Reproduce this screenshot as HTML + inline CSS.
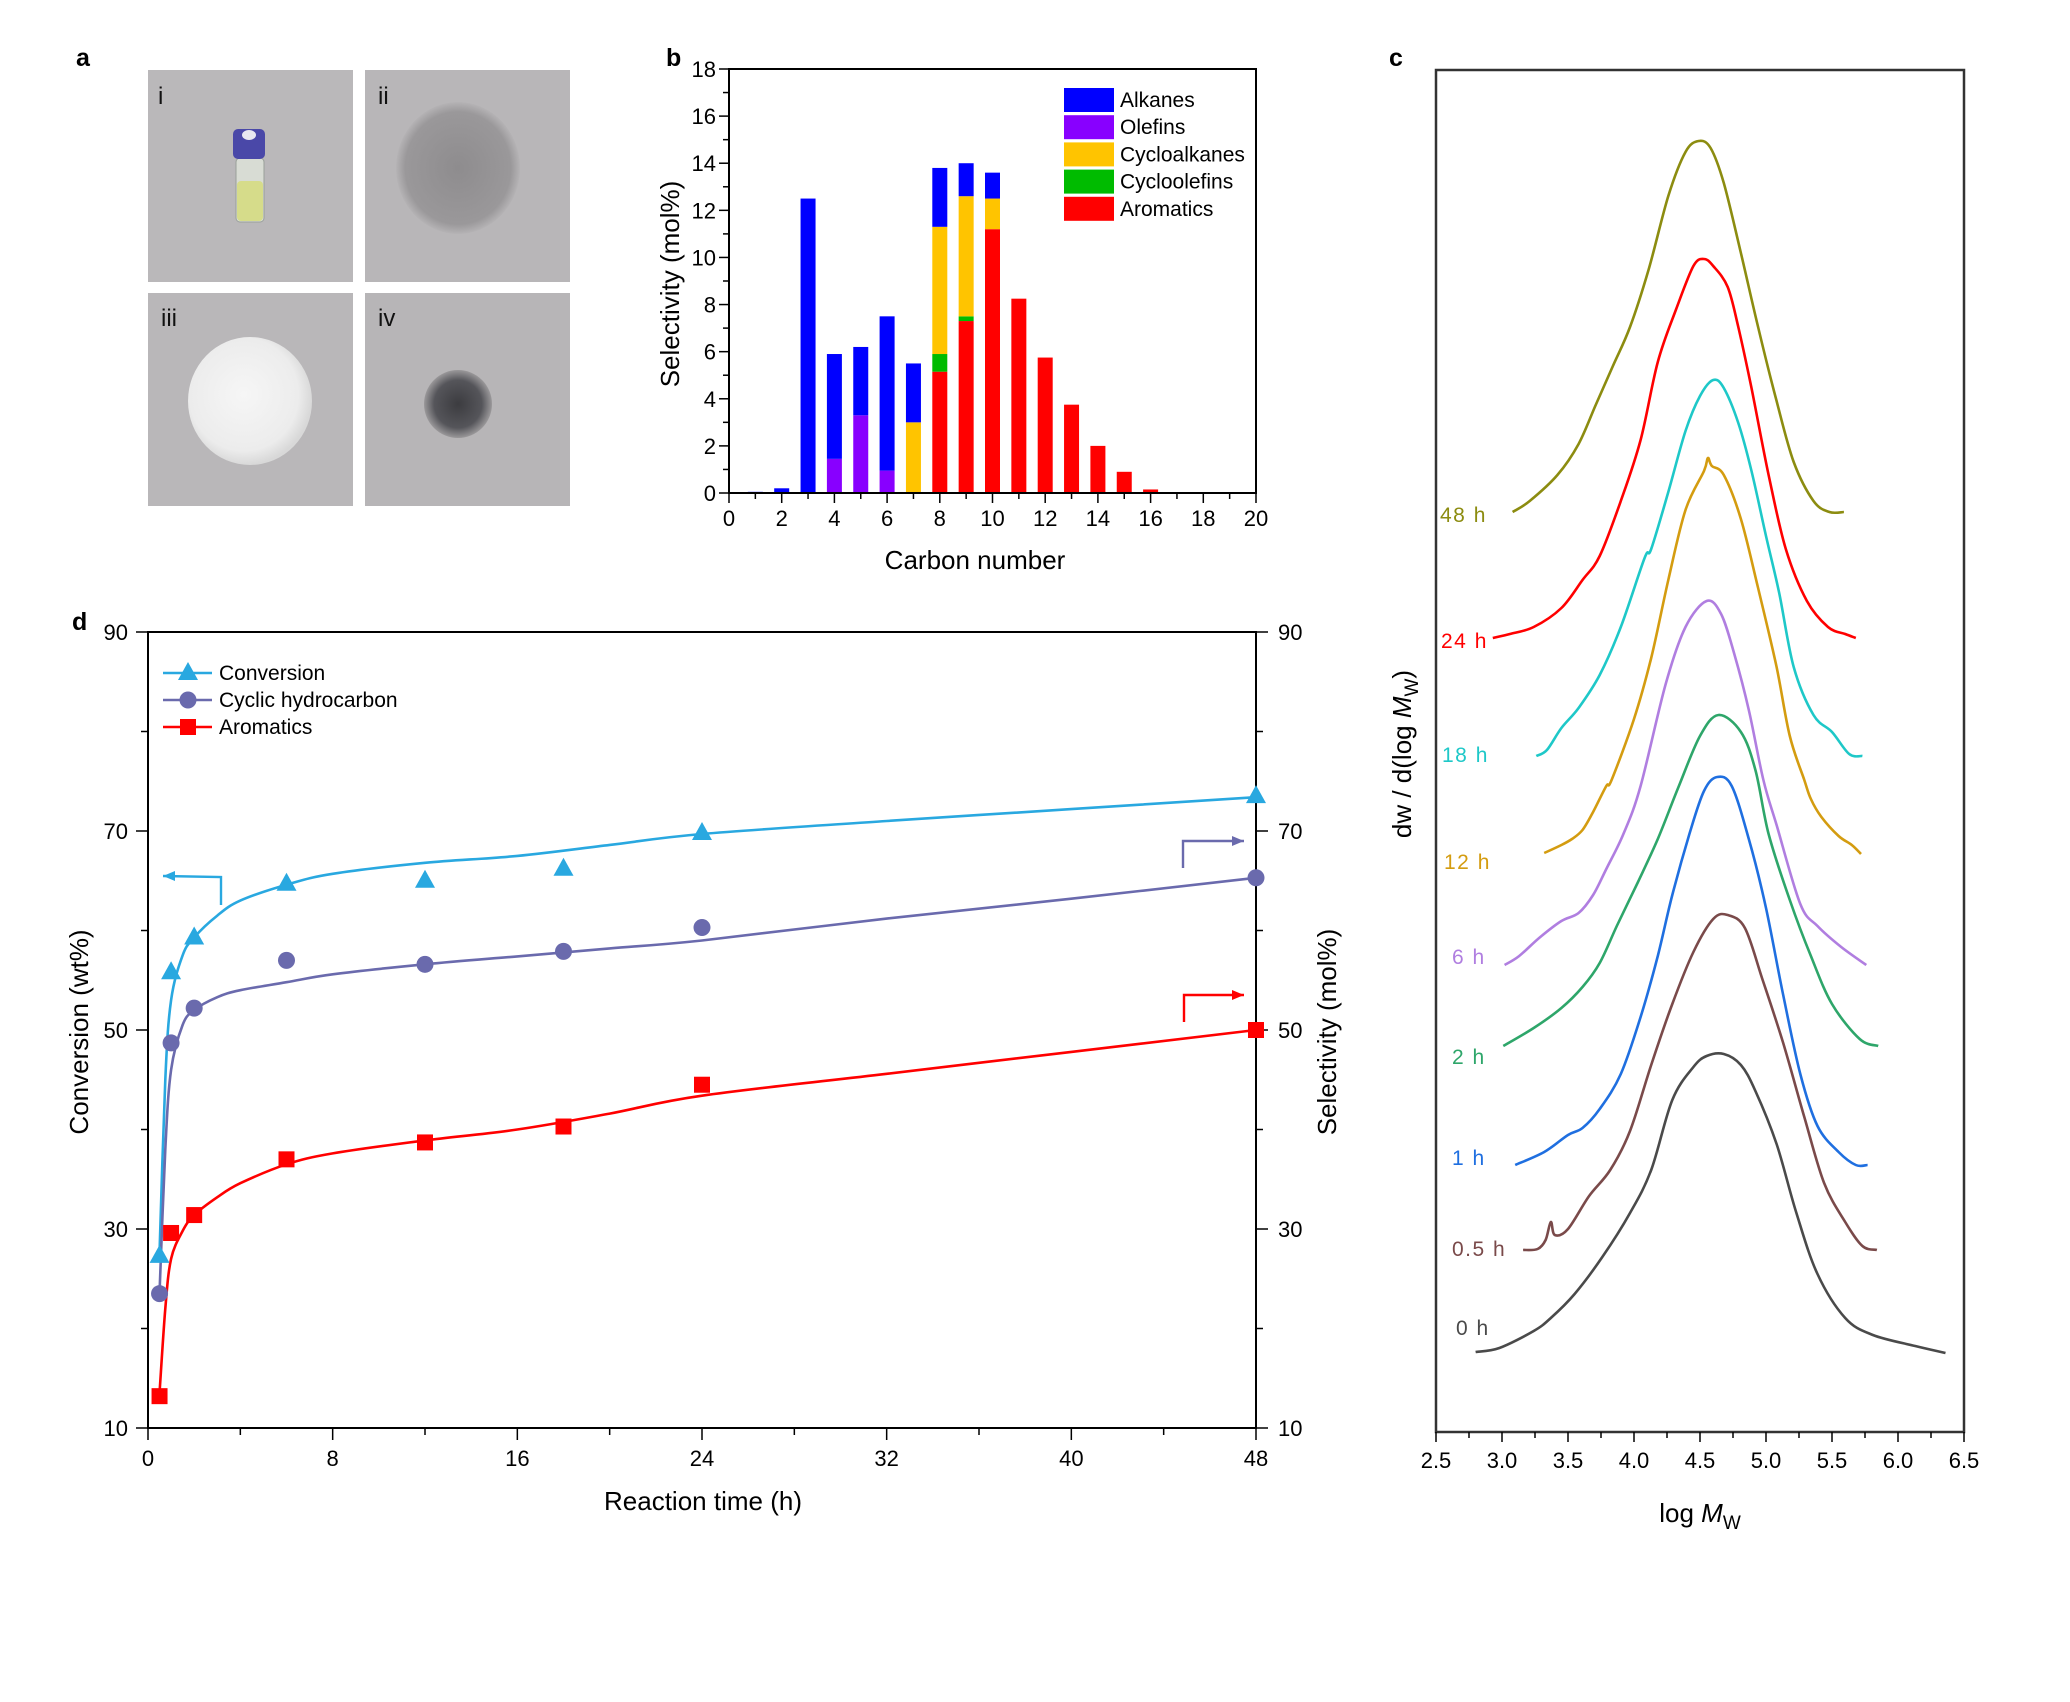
<!DOCTYPE html>
<html><head><meta charset="utf-8"><style>
html,body{margin:0;padding:0;background:#fff;}
svg{display:block;font-family:"Liberation Sans",Arial,sans-serif;}
</style></head><body>
<svg id="fig" width="2070" height="1702" viewBox="0 0 2070 1702" xmlns="http://www.w3.org/2000/svg">
<defs>
<radialGradient id="g2" cx="50%" cy="50%" r="50%"><stop offset="0" stop-color="#8e8c8e"/><stop offset="0.85" stop-color="#9a989a"/><stop offset="1" stop-color="#b5b3b5"/></radialGradient>
<radialGradient id="g3" cx="45%" cy="45%" r="55%"><stop offset="0" stop-color="#f6f6f6"/><stop offset="0.8" stop-color="#ececec"/><stop offset="1" stop-color="#d8d8d8"/></radialGradient>
<radialGradient id="g4" cx="50%" cy="50%" r="50%"><stop offset="0" stop-color="#3c3c40"/><stop offset="0.7" stop-color="#55555a"/><stop offset="1" stop-color="#9a989a"/></radialGradient>
</defs>
<g id="pa">
<text x="76" y="66" font-size="25" font-weight="bold">a</text>
<rect x="148" y="70" width="205" height="212" fill="#bab8ba"/>
<rect x="365" y="70" width="205" height="212" fill="#b8b6b8"/>
<rect x="148" y="293" width="205" height="213" fill="#b9b7b9"/>
<rect x="365" y="293" width="205" height="213" fill="#b7b5b7"/>
<rect x="236" y="158" width="28" height="64" rx="4" fill="#d8dcd4" stroke="#9aa09a"/>
<rect x="237" y="181" width="26" height="40" rx="4" fill="#d6dc8a"/>
<rect x="233" y="129" width="32" height="30" rx="5" fill="#4a48a8"/>
<ellipse cx="249" cy="135" rx="7" ry="5" fill="#e8e8f0"/>
<ellipse cx="458" cy="168" rx="62" ry="66" fill="url(#g2)"/>
<ellipse cx="250" cy="401" rx="62" ry="64" fill="url(#g3)"/>
<ellipse cx="458" cy="404" rx="34" ry="34" fill="url(#g4)"/>
<text x="158" y="104" font-size="24" fill="#111">i</text>
<text x="378" y="104" font-size="24" fill="#111">ii</text>
<text x="161" y="326" font-size="24" fill="#111">iii</text>
<text x="378" y="326" font-size="24" fill="#111">iv</text>
</g>
<g id="pb"></g>
<g id="pc"></g>
<g id="pd"></g>
</svg>
<script>
// ---------- Panel b data ----------
const carbonNumbers = [1,2,3,4,5,6,7,8,9,10,11,12,13,14,15,16,17,18];
const alkanes      = [0.05,0.2,12.5,4.45,2.9,6.55,2.5,2.5,1.4,1.1,0,0,0,0,0,0,0,0];
const olefins      = [0,0,0,1.45,3.3,0.95,0,0,0,0,0,0,0,0,0,0,0,0];
const cycloalkanes = [0,0,0,0,0,0,3.0,5.4,5.1,1.3,0,0,0,0,0,0,0,0];
const cycloolefins = [0,0,0,0,0,0,0,0.75,0.2,0,0,0,0,0,0,0,0,0];
const aromatics    = [0,0,0,0,0,0,0,5.15,7.3,11.2,8.25,5.75,3.75,2.0,0.9,0.15,0.02,0.02];
const bXTicks = [0,2,4,6,8,10,12,14,16,18,20];
const bYTicks = [0,2,4,6,8,10,12,14,16,18];
const bLegend = ["Alkanes","Olefins","Cycloalkanes","Cycloolefins","Aromatics"];

// ---------- Panel c data ----------
const gpcLabels = ["0 h","0.5 h","1 h","2 h","6 h","12 h","18 h","24 h","48 h"];
const c0_x = [2.80,2.98,3.24,3.37,3.55,3.76,3.97,4.13,4.29,4.45,4.55,4.68,4.81,4.92,5.08,5.23,5.39,5.60,5.81,6.13,6.36];
const c0_y = [0.80,0.84,1.01,1.14,1.38,1.75,2.19,2.62,3.32,3.65,3.76,3.78,3.67,3.41,2.88,2.19,1.58,1.14,0.97,0.86,0.79];
const c05_x = [3.16,3.27,3.33,3.37,3.40,3.50,3.66,3.82,3.97,4.13,4.29,4.45,4.60,4.71,4.84,4.97,5.13,5.29,5.44,5.60,5.73,5.84];
const c05_y = [1.82,1.83,1.92,2.10,1.97,2.03,2.36,2.62,3.01,3.67,4.28,4.80,5.13,5.17,5.04,4.54,3.89,3.15,2.49,2.10,1.86,1.82];
const c1_x = [3.10,3.32,3.50,3.61,3.74,3.90,4.05,4.18,4.29,4.42,4.53,4.63,4.74,4.87,5.00,5.13,5.26,5.39,5.55,5.68,5.77];
const c1_y = [2.67,2.80,2.97,3.04,3.23,3.58,4.15,4.76,5.37,5.98,6.41,6.55,6.46,5.93,5.24,4.37,3.58,3.06,2.80,2.67,2.67];
const c2_x = [3.01,3.24,3.45,3.61,3.74,3.87,4.03,4.18,4.34,4.50,4.64,4.81,4.92,5.02,5.18,5.34,5.50,5.71,5.85];
const c2_y = [3.86,4.04,4.24,4.45,4.69,5.06,5.50,5.93,6.46,6.96,7.17,7.00,6.62,5.98,5.32,4.76,4.28,3.93,3.86];
const c6_x = [3.02,3.13,3.29,3.45,3.58,3.69,3.79,3.92,4.05,4.24,4.39,4.55,4.66,4.76,4.87,4.98,5.08,5.26,5.39,5.57,5.76];
const c6_y = [4.67,4.76,4.95,5.11,5.19,5.37,5.63,5.98,6.46,7.48,8.05,8.31,8.18,7.78,7.22,6.52,6.07,5.28,5.06,4.85,4.67];
const c12_x = [3.32,3.45,3.53,3.61,3.69,3.79,3.83,4.00,4.13,4.26,4.39,4.53,4.56,4.59,4.68,4.81,4.94,5.08,5.18,5.29,5.34,5.42,5.55,5.65,5.72];
const c12_y = [5.79,5.87,5.93,6.02,6.20,6.46,6.52,7.13,7.74,8.52,9.22,9.61,9.74,9.66,9.57,9.13,8.44,7.65,6.96,6.52,6.33,6.15,5.96,5.87,5.78];
const c18_x = [3.26,3.34,3.45,3.58,3.74,3.90,4.08,4.13,4.26,4.39,4.50,4.60,4.68,4.79,4.89,5.00,5.10,5.21,5.36,5.50,5.63,5.73];
const c18_y = [6.76,6.82,7.04,7.24,7.57,8.05,8.74,8.83,9.40,10.01,10.36,10.52,10.44,10.09,9.61,8.96,8.39,7.65,7.17,7.00,6.78,6.76];
const c24_x = [2.93,3.06,3.24,3.45,3.61,3.74,3.90,4.05,4.18,4.32,4.45,4.53,4.60,4.71,4.79,4.89,5.02,5.15,5.31,5.47,5.60,5.68];
const c24_y = [7.94,7.98,8.05,8.24,8.52,8.76,9.31,9.92,10.70,11.23,11.66,11.73,11.66,11.45,11.05,10.44,9.57,8.83,8.31,8.05,7.98,7.94];
const c48_x = [3.08,3.21,3.42,3.58,3.71,3.84,3.97,4.11,4.26,4.39,4.49,4.58,4.68,4.81,4.94,5.08,5.21,5.36,5.48,5.59];
const c48_y = [9.20,9.31,9.57,9.88,10.27,10.66,11.05,11.62,12.36,12.80,12.91,12.84,12.49,11.79,11.05,10.31,9.70,9.31,9.20,9.20];
const cXTicks = [2.5,3.0,3.5,4.0,4.5,5.0,5.5,6.0,6.5];

// ---------- Panel d data ----------
const times = [0.5,1,2,6,12,18,24,48];
const conversion = [27.3,55.8,59.3,64.7,65.0,66.2,69.8,73.5];
const cyclic = [23.5,48.7,52.2,57.0,56.6,57.9,60.3,65.3];
const aromaticsSel = [13.2,29.6,31.4,37.0,38.7,40.3,44.5,50.0];
const fitTimes = [0.5,0.75,1,1.5,2,3,4,6,8,12,16,20,24,32,40,48];
const conversionFit = [27.5,45,53,57.5,59.3,61.5,63,64.6,65.7,66.8,67.5,68.6,69.7,71.0,72.2,73.4];
const cyclicFit = [23.5,38,46,50.5,52,53.3,54.0,54.8,55.6,56.6,57.4,58.2,59.0,61.2,63.2,65.3];
const aromaticsFit = [13.5,22,27,29.8,31.4,33.2,34.6,36.5,37.6,38.9,40.0,41.6,43.4,45.6,47.8,50.0];
const dXTicks = [0,8,16,24,32,40,48];
const dYTicks = [10,30,50,70,90];

const NS = "http://www.w3.org/2000/svg";
function mk(parent, tag, attrs, text){
  const e = document.createElementNS(NS, tag);
  for (const k in attrs) e.setAttribute(k, attrs[k]);
  if (text !== undefined) e.textContent = text;
  parent.appendChild(e);
  return e;
}
function smoothPath(pts){
  if (pts.length < 2) return "";
  let d = "M" + pts[0][0].toFixed(1) + "," + pts[0][1].toFixed(1);
  for (let i = 0; i < pts.length - 1; i++){
    const p0 = pts[Math.max(0,i-1)], p1 = pts[i], p2 = pts[i+1], p3 = pts[Math.min(pts.length-1,i+2)];
    const c1x = p1[0] + (p2[0]-p0[0])/6, c1y = p1[1] + (p2[1]-p0[1])/6;
    const c2x = p2[0] - (p3[0]-p1[0])/6, c2y = p2[1] - (p3[1]-p1[1])/6;
    d += " C" + c1x.toFixed(1)+","+c1y.toFixed(1)+" "+c2x.toFixed(1)+","+c2y.toFixed(1)+" "+p2[0].toFixed(1)+","+p2[1].toFixed(1);
  }
  return d;
}

// ================= Panel b =================
(function(){
  const g = document.getElementById("pb");
  const L=729, R=1256, T=69, B=493;
  const xb = c => L + c*(R-L)/20;
  const yb = v => B - v*(B-T)/18;
  let e;
  e = mk(g,"text",{x:666,y:66,"font-size":25,"font-weight":"bold"},"b");
  
  
  const colors = ["#0000ff","#8800ff","#ffc400","#00bb00","#ff0000"];
  const series = [aromatics, cycloolefins, cycloalkanes, olefins, alkanes];
  const sc = ["#ff0000","#00bb00","#ffc400","#8800ff","#0000ff"];
  const sn = ["aromatics","cycloolefins","cycloalkanes","olefins","alkanes"];
  const bw = 15;
  for (let i=0;i<carbonNumbers.length;i++){
    let base = 0;
    for (let s=0;s<series.length;s++){
      const v = series[s][i];
      if (v<=0) continue;
      const r = mk(g,"rect",{x:xb(carbonNumbers[i])-bw/2, y:yb(base+v), width:bw, height:Math.max(0.8,yb(base)-yb(base+v)), fill:sc[s]});
      
      
      base += v;
    }
  }
  e = mk(g,"rect",{x:L,y:T,width:R-L,height:B-T,fill:"none",stroke:"#000","stroke-width":2});
  
  
  for (let c=0;c<=20;c++){
    const major = c%2===0;
    const t = mk(g,"line",{x1:xb(c),y1:B,x2:xb(c),y2:B+(major?10:6),stroke:"#000","stroke-width":1.5});
    
    
  }
  bXTicks.forEach(c=>{
    const t = mk(g,"text",{x:xb(c),y:526,"font-size":22,"text-anchor":"middle"},String(c));
    
    
  });
  for (let v=0;v<=18;v++){
    const major = v%2===0;
    const t = mk(g,"line",{x1:L-(major?10:6),y1:yb(v),x2:L,y2:yb(v),stroke:"#000","stroke-width":1.5});
    
    
  }
  bYTicks.forEach(v=>{
    const t = mk(g,"text",{x:716,y:yb(v)+8,"font-size":22,"text-anchor":"end"},String(v));
    
    
  });
  e = mk(g,"text",{x:975,y:569,"font-size":26,"text-anchor":"middle"},"Carbon number");
  
  
  e = mk(g,"text",{x:0,y:0,"font-size":26,"text-anchor":"middle",transform:"translate(679,284) rotate(-90)"},"Selectivity (mol%)");
  
  
  bLegend.forEach((name,i)=>{
    const y0 = 88 + i*27.2;
    const r = mk(g,"rect",{x:1064,y:y0,width:50,height:24,fill:colors[i]});
    
    
    const t = mk(g,"text",{x:1120,y:y0+19,"font-size":21},name);
    
    
  });
})();

// ================= Panel c =================
(function(){
  const g = document.getElementById("pc");
  const L=1436, R=1964, T=70, B=1432;
  const xc = l => L + (l-2.5)*(R-L)/4;
  const yc = v => B - v*100;
  let e;
  e = mk(g,"text",{x:1389,y:66,"font-size":25,"font-weight":"bold"},"c");
  
  
  e = mk(g,"rect",{x:L,y:T,width:R-L,height:B-T,fill:"none",stroke:"#333","stroke-width":2.5});
  
  
  for (let i=0;i<=16;i++){
    const l = 2.5 + i*0.25;
    const t = mk(g,"line",{x1:xc(l),y1:B,x2:xc(l),y2:B+(i%2===0?10:6),stroke:"#000","stroke-width":1.5});
    
    
  }
  cXTicks.forEach(l=>{
    const t = mk(g,"text",{x:xc(l),y:1468,"font-size":22,"text-anchor":"middle"},l.toFixed(1));
    
    
  });
  e = mk(g,"text",{x:1700,y:1522,"font-size":26,"text-anchor":"middle"});
  
  
  e.innerHTML = 'log <tspan font-style="italic">M</tspan><tspan font-size="19" dy="7">W</tspan>';
  e = mk(g,"text",{x:0,y:0,"font-size":26,"text-anchor":"middle",transform:"translate(1411,754) rotate(-90)"});
  
  
  e.innerHTML = 'dw / d(log <tspan font-style="italic">M</tspan><tspan font-size="19" dy="7">W</tspan><tspan dy="-7">)</tspan>';
  const curves = [[c0_x,c0_y],[c05_x,c05_y],[c1_x,c1_y],[c2_x,c2_y],[c6_x,c6_y],[c12_x,c12_y],[c18_x,c18_y],[c24_x,c24_y],[c48_x,c48_y]];
  const cols = ["#4a4a4a","#7a4a4a","#1f6fe0","#2ea66a","#b07ee0","#d49c10","#1ec8c8","#ff0000","#8c8c10"];
  const lx = [1456,1452,1452,1452,1452,1444,1442,1441,1440];
  const ly = [1327,1248,1157,1056,956,861,754,640,514];
  curves.forEach((cv,i)=>{
    const pts = cv[0].map((l,k)=>[xc(l), yc(cv[1][k])]);
    const p = mk(g,"path",{d:smoothPath(pts),fill:"none",stroke:cols[i],"stroke-width":2.6,"stroke-linejoin":"round"});
    
    
    const t = mk(g,"text",{x:lx[i],y:ly[i]+8,"font-size":21,fill:cols[i],"letter-spacing":"1.5"},gpcLabels[i]);
    
    
  });
})();

// ================= Panel d =================
(function(){
  const g = document.getElementById("pd");
  const L=148, R=1256, T=632, B=1428;
  const xd = t => L + t*(R-L)/48;
  const yd = v => B - (v-10)*(B-T)/80;
  let e;
  e = mk(g,"text",{x:72,y:630,"font-size":25,"font-weight":"bold"},"d");
  
  
  e = mk(g,"rect",{x:L,y:T,width:R-L,height:B-T,fill:"none",stroke:"#000","stroke-width":2});
  
  
  for (let t=0;t<=48;t+=4){
    const major = t%8===0;
    const k = mk(g,"line",{x1:xd(t),y1:B,x2:xd(t),y2:B+(major?12:7),stroke:"#000","stroke-width":1.5});
    
    
  }
  dXTicks.forEach(t=>{
    const k = mk(g,"text",{x:xd(t),y:1466,"font-size":22,"text-anchor":"middle"},String(t));
    
    
  });
  for (let v=10;v<=90;v+=10){
    const major = (v-10)%20===0;
    const a = mk(g,"line",{x1:L-(major?12:7),y1:yd(v),x2:L,y2:yd(v),stroke:"#000","stroke-width":1.5});
    
    
    const b = mk(g,"line",{x1:R,y1:yd(v),x2:R+(major?12:7),y2:yd(v),stroke:"#000","stroke-width":1.5});
    
    
  }
  dYTicks.forEach(v=>{
    const a = mk(g,"text",{x:128,y:yd(v)+8,"font-size":22,"text-anchor":"end"},String(v));
    
    
    const b = mk(g,"text",{x:1278,y:yd(v)+8,"font-size":22},String(v));
    
    
  });
  e = mk(g,"text",{x:703,y:1510,"font-size":26,"text-anchor":"middle"},"Reaction time (h)");
  
  
  e = mk(g,"text",{x:0,y:0,"font-size":26,"text-anchor":"middle",transform:"translate(88,1032) rotate(-90)"},"Conversion (wt%)");
  
  
  e = mk(g,"text",{x:0,y:0,"font-size":26,"text-anchor":"middle",transform:"translate(1336,1032) rotate(-90)"},"Selectivity (mol%)");
  
  

  const C1="#29a8e0", C2="#6a6aad", C3="#ff0000";
  const fits = [[conversionFit,C1,'conversion'],[cyclicFit,C2,'cyclic-hydrocarbon'],[aromaticsFit,C3,'aromatics']];
  fits.forEach(f=>{
    const pts = fitTimes.map((t,k)=>[xd(t), yd(f[0][k])]);
    const p = mk(g,"path",{d:smoothPath(pts),fill:"none",stroke:f[1],"stroke-width":2.6});
    
    
  });
  function tri(x,y,c){ return mk(g,"path",{d:`M${x},${y-11} L${x+10},${y+7} L${x-10},${y+7} Z`,fill:c}); }
  function circ(x,y,c){ return mk(g,"circle",{cx:x,cy:y,r:8.5,fill:c}); }
  function sq(x,y,c){ return mk(g,"rect",{x:x-8,y:y-8,width:16,height:16,fill:c}); }
  times.forEach((t,k)=>{
    let m = tri(xd(t), yd(conversion[k]), C1);
    
    
    m = circ(xd(t), yd(cyclic[k]), C2);
    
    
    m = sq(xd(t), yd(aromaticsSel[k]), C3);
    
    
  });
  const leg = [["Conversion",C1,tri,'legend-entry-conversion'],["Cyclic hydrocarbon",C2,circ,'legend-entry-cyclic'],["Aromatics",C3,sq,'legend-entry-aromatics']];
  leg.forEach((l,i)=>{
    const y = 673 + i*27;
    const ln = mk(g,"line",{x1:163,y1:y,x2:212,y2:y,stroke:l[1],"stroke-width":2.6});
    
    
    const mm = l[2](188,y,l[1]);
    
    
    const tx = mk(g,"text",{x:219,y:y+7,"font-size":21},l[0]);
    
    
  });
  function arrow(pts, c, name){
    const p = mk(g,"polyline",{points:pts.map(q=>q.join(",")).join(" "),fill:"none",stroke:c,"stroke-width":2.4});
    
    
    const a = pts[pts.length-1], b = pts[pts.length-2];
    const dir = Math.sign(a[0]-b[0]);
    const h = mk(g,"path",{d:`M${a[0]},${a[1]} L${a[0]-dir*12},${a[1]-5} L${a[0]-dir*12},${a[1]+5} Z`,fill:c});
    
    
  }
  arrow([[221,905],[221,877],[163,876]], C1, 'arrow-conversion-left-axis');
  arrow([[1183,868],[1183,841],[1244,841]], C2, 'arrow-cyclic-right-axis');
  arrow([[1184,1022],[1184,995],[1244,995]], C3, 'arrow-aromatics-right-axis');
})();
</script>
</body></html>
